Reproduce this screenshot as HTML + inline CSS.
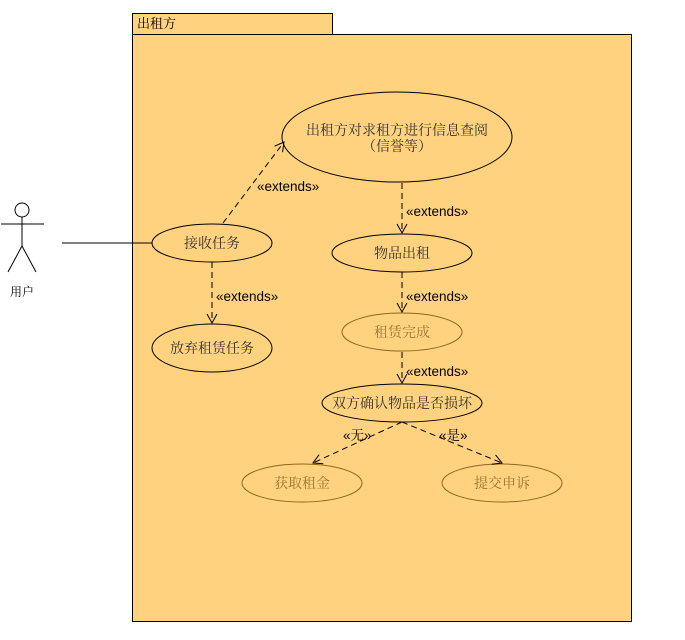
<!DOCTYPE html>
<html><head><meta charset="utf-8"><style>
body{margin:0;background:#fff;}
svg{display:block;font-family:"Liberation Sans","Noto Serif CJK SC","Noto Sans CJK SC",sans-serif;}
</style></head><body>
<svg width="685" height="640" viewBox="0 0 685 640" xmlns="http://www.w3.org/2000/svg">
<defs>
<marker id="a" markerWidth="12" markerHeight="12" refX="10" refY="6" orient="auto" markerUnits="userSpaceOnUse">
<path d="M1,1 L10,6 L1,11" fill="none" stroke="#000" stroke-width="1"/>
</marker>
</defs>
<rect x="132.5" y="13.5" width="200" height="21" fill="#FFD27F" stroke="#000"/>
<rect x="132.5" y="34.5" width="499" height="587" fill="#FFD27F" stroke="#000"/>
<text x="137" y="28" font-size="13" fill="#000">出租方</text>

<g stroke="#000" fill="none">
<circle cx="22" cy="210" r="7"/>
<line x1="22" y1="217" x2="22" y2="246"/>
<line x1="1" y1="224" x2="44" y2="224"/>
<line x1="22" y1="246" x2="8" y2="272"/>
<line x1="22" y1="246" x2="36" y2="272"/>
<line x1="62" y1="243" x2="152" y2="243"/>
</g>
<text x="22" y="296" font-size="12" text-anchor="middle">用户</text>

<g fill="#FFD27F" stroke="#000">
<ellipse cx="397" cy="137" rx="115" ry="45"/>
<ellipse cx="212" cy="243" rx="60" ry="19"/>
<ellipse cx="212" cy="348" rx="60" ry="24"/>
<ellipse cx="402" cy="253" rx="70" ry="19"/>
<ellipse cx="402" cy="403" rx="80" ry="19"/>
</g>
<g fill="#FFD27F" stroke="#8B6A1E">
<ellipse cx="402" cy="332" rx="60" ry="19"/>
<ellipse cx="302" cy="483" rx="60" ry="19"/>
<ellipse cx="502" cy="483" rx="60" ry="19"/>
</g>

<g font-size="14" text-anchor="middle" fill="#333">
<text x="397" y="135">出租方对求租方进行信息查阅</text>
<text x="397" y="151">（信誉等）</text>
<text x="212" y="248">接收任务</text>
<text x="212" y="353">放弃租赁任务</text>
<text x="402" y="258">物品出租</text>
<text x="402" y="408">双方确认物品是否损坏</text>
</g>
<g font-size="14" text-anchor="middle" fill="#9a7535">
<text x="402" y="337">租赁完成</text>
<text x="302" y="488">获取租金</text>
<text x="502" y="488">提交申诉</text>
</g>

<g stroke="#000" fill="none" stroke-dasharray="6,4" marker-end="url(#a)">
<line x1="223" y1="223" x2="284" y2="142"/>
<line x1="212" y1="262" x2="212" y2="323"/>
<line x1="402" y1="183" x2="402" y2="233"/>
<line x1="402" y1="272" x2="402" y2="312"/>
<line x1="402" y1="352" x2="402" y2="383"/>
<line x1="402" y1="422" x2="313" y2="463"/>
<line x1="402" y1="422" x2="502" y2="463"/>
</g>
<g font-size="13.5" fill="#000">
<text x="257" y="191">«extends»</text>
<text x="216" y="301">«extends»</text>
<text x="406" y="216">«extends»</text>
<text x="406" y="301">«extends»</text>
<text x="406" y="376">«extends»</text>
<text x="343" y="440">«无»</text>
<text x="439" y="440">«是»</text>
</g>
</svg>
</body></html>
